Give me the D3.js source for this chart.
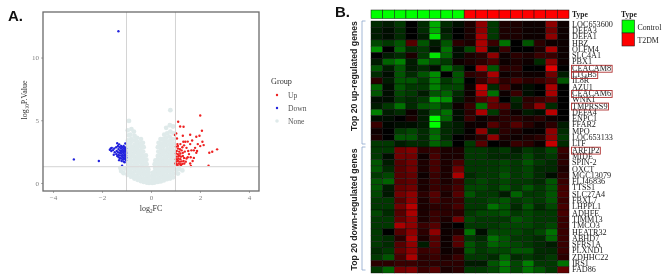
<!DOCTYPE html>
<head>
<meta charset="utf-8">
<title>Volcano plot and heatmap</title>
<style>
    body { margin: 0; background: white; }
    svg { display: block; filter: blur(0.4px); }
    text { font-family: "Liberation Serif", serif; }
    .panel-label { font: bold 15px "Liberation Sans", sans-serif; fill: #111; }
    .axis path { display: none; }
    .axis line { stroke: #777; stroke-width: 0.6px; }
    .axis text { font: 7px "Liberation Serif", serif; fill: #808080; }
    .side-label { font: bold 8.7px "Liberation Sans", sans-serif; fill: #222; text-anchor: middle; }
    .gene { font-size: 8.2px; fill: #222; dominant-baseline: middle; }
    .type-label { font-size: 7.6px; font-weight: bold; fill: #222; }
</style>
</head>
<body>
<svg width="669" height="279"></svg>
<script src="https://d3js.org/d3.v7.min.js"></script>
<script>

    // volcano plot, values: [log2FC, -log10 P]
    var xTicks = [-4, -2, 0, 2, 4];
    var yTicks = [0, 5, 10];
    var cutX = [-1, 1];
    var cutY = [1.3];
    var groupNames = ["Up", "Down", "None"];

    var upGenes = [
        [2.01,5.38],[1.11,4.88],[1.19,4.5],[1.33,4.48],[2.08,4.16],[1.03,3.95],[0.98,3.82],[1.3,3.77],
        [1.6,3.85],[1.98,3.77],[1.85,3.69],[1.06,3.55],[1.4,3.29],[1.32,3.29],[1.68,3.39],[2.1,3.29],
        [2.15,3.02],[1.91,3.1],[2.01,2.94],[2.7,2.68],[2.5,2.49],[2.38,2.41],[2.35,1.38],[1.63,1.35],
        [1.02,2.9],[1.1,2.75],[1.18,2.7],[1.05,2.55],[1.15,2.5],[1.25,2.6],[1.02,2.35],[1.1,2.3],
        [1.2,2.35],[1.3,2.4],[1.38,2.5],[1.05,2.1],[1.13,2.15],[1.22,2.1],[1.3,2.15],[1.02,1.9],
        [1.12,1.95],[1.2,1.9],[1.35,2],[1.45,1.95],[1.5,2.05],[1.03,1.7],[1.1,1.75],[1.18,1.7],
        [1.25,1.72],[1.33,1.75],[1.42,1.7],[1.05,1.5],[1.13,1.55],[1.2,1.5],[1.28,1.52],[1.36,1.55],
        [1.08,1.42],[1.22,1.42],[1.55,2.3],[1.62,2.05],[1.7,1.75],[1.6,1.55],[1.75,2],[1.85,2.4],
        [1.88,2.55],[1.75,2.6],[1.65,2.6],[1.45,2.8],[1.35,3.0],[1.2,3.1],[1.08,3.1],[1.5,3.3],
        [1.6,3.1],[1.8,2.8],[1.1,2.95],[1.28,2.85],[1.52,2.55],[1.0,1.55],[1.16,2.2],[1.07,1.85]
    ];

    var downGenes = [
        [-1.33,12.1],[-3.15,1.88],[-2.13,1.75],[-1.18,1.38],[-1.38,3.17],[-1.3,3.08],[-1.05,3.15],
        [-1.68,2.65],[-1.64,2.75],[-1.6,2.8],[-1.55,2.62],[-1.62,2.55],[-1.5,2.75],[-1.48,2.45],
        [-1.52,2.25],[-1.42,2.85],[-1.4,2.55],[-1.42,2.3],[-1.38,2.15],[-1.35,2.95],[-1.33,2.7],
        [-1.35,2.45],[-1.33,2.25],[-1.32,2.05],[-1.28,2.85],[-1.27,2.6],[-1.28,2.4],[-1.27,2.2],
        [-1.26,1.98],[-1.22,2.95],[-1.22,2.75],[-1.21,2.55],[-1.22,2.35],[-1.2,2.15],[-1.22,1.95],
        [-1.2,1.75],[-1.17,2.85],[-1.16,2.65],[-1.16,2.45],[-1.16,2.25],[-1.15,2.05],[-1.15,1.88],
        [-1.12,2.95],[-1.11,2.75],[-1.11,2.55],[-1.11,2.38],[-1.1,2.18],[-1.1,1.98],[-1.12,1.72],
        [-1.07,2.85],[-1.06,2.65],[-1.06,2.48],[-1.06,2.28],[-1.05,2.1],[-1.06,1.92],[-1.08,1.65],
        [-1.02,2.75],[-1.02,2.55],[-1.01,2.38],[-1.02,2.2],[-1.01,2.02],[-1.02,1.8],[-1.3,1.82],[-1.24,2.48]
    ];

    var noneGenes = [
        [-1.22,0.95],[-1.12,0.78],[-1.08,1.15],[-1.25,1.2],
        [-0.96,0.65],[-0.94,0.95],[-0.95,1.25],[-0.93,1.55],[-0.96,1.85],[-0.94,2.15],[-0.95,2.45],[-0.93,2.75],[-0.96,3.05],[-0.94,3.4],[-0.92,3.8],[-0.95,4.2],[-0.9,4.95],
        [-0.82,0.5],[-0.81,0.8],[-0.83,1.1],[-0.8,1.4],[-0.82,1.7],[-0.84,2],[-0.81,2.3],[-0.82,2.6],[-0.8,2.9],[-0.83,3.2],[-0.81,3.5],[-0.84,3.85],[-0.8,4.3],
        [-0.68,0.35],[-0.7,0.65],[-0.67,0.95],[-0.69,1.25],[-0.66,1.55],[-0.68,1.85],[-0.7,2.15],[-0.67,2.45],[-0.68,2.75],[-0.66,3.05],[-0.69,3.4],[-0.67,3.75],[-0.7,4.1],
        [-0.55,0.25],[-0.56,0.55],[-0.53,0.85],[-0.55,1.15],[-0.57,1.45],[-0.54,1.75],[-0.55,2.05],[-0.53,2.35],[-0.56,2.65],[-0.54,2.95],[-0.55,3.25],[-0.57,3.6],
        [-0.42,0.15],[-0.43,0.45],[-0.41,0.75],[-0.43,1.05],[-0.4,1.35],[-0.42,1.65],[-0.44,1.95],[-0.41,2.25],[-0.42,2.55],[-0.4,2.85],[-0.43,3.15],[-0.41,3.5],
        [-0.3,0.08],[-0.31,0.35],[-0.29,0.65],[-0.3,0.95],[-0.28,1.25],[-0.31,1.55],[-0.29,1.85],[-0.3,2.15],[-0.32,2.5],[-0.3,2.85],[-0.33,3.2],
        [-0.18,0.03],[-0.19,0.3],[-0.17,0.6],[-0.18,0.9],[-0.16,1.2],[-0.18,1.5],[-0.19,1.85],[-0.21,2.2],
        [-0.08,0],[-0.09,0.25],[-0.08,0.55],[-0.1,0.85],[-0.11,1.1],
        [0.05,0],[0.06,0.25],[0.05,0.55],[0.07,0.8],
        [0.15,0.03],[0.16,0.3],[0.14,0.6],[0.15,0.9],[0.17,1.2],[0.15,1.5],[0.18,1.8],
        [0.28,0.08],[0.29,0.35],[0.27,0.65],[0.28,0.95],[0.26,1.25],[0.29,1.55],[0.27,1.85],[0.28,2.15],[0.3,2.5],[0.28,2.85],[0.31,3.2],
        [0.4,0.12],[0.41,0.45],[0.39,0.75],[0.41,1.05],[0.38,1.35],[0.4,1.65],[0.42,1.95],[0.39,2.25],[0.4,2.55],[0.38,2.85],[0.41,3.15],[0.39,3.5],
        [0.52,0.2],[0.53,0.5],[0.51,0.8],[0.53,1.1],[0.5,1.4],[0.52,1.7],[0.54,2],[0.51,2.3],[0.52,2.6],[0.5,2.9],[0.53,3.2],[0.51,3.5],[0.54,3.85],
        [0.65,0.3],[0.66,0.6],[0.64,0.9],[0.65,1.2],[0.63,1.5],[0.66,1.8],[0.64,2.1],[0.65,2.4],[0.67,2.7],[0.64,3],[0.65,3.3],[0.63,3.6],[0.66,3.95],[0.62,4.4],
        [0.78,0.35],[0.79,0.65],[0.77,0.95],[0.78,1.25],[0.76,1.55],[0.79,1.85],[0.77,2.15],[0.78,2.45],[0.8,2.75],[0.77,3.05],[0.78,3.35],[0.76,3.7],[0.79,4.1],[0.77,4.6],[0.79,5.8],
        [0.9,0.45],[0.91,0.75],[0.89,1.05],[0.9,1.35],[0.92,1.65],[0.89,1.95],[0.91,2.25],[0.9,2.55],[0.88,2.85],[0.91,3.15],[0.89,3.5],[0.92,3.95],[0.9,4.5],
        [1.1,0.75],[1.04,1.05],[1.15,1.12],[1.28,1.0]
    ];

    // heatmap, values, green (-9) to red (+9)
    var geneNames = ["LOC653600","DEFA3","DEFA1","HBZ","OLFM4","SLC4A1","PBX1","CEACAM8","LTGB5","IL8R",
        "AZU1","CEACAM6","WNK1","TMPRSS9","DEFA4","ENPC1","FFAR2","MPO","LOC653133","LTF",
        "ARFIP2","MIDE","SPIN-2","OXCT","MGC13079","FLJ46836","TTSS1","SLC27A4","FBXL7","LHPPL1",
        "ADHFE","TIMM13","TMCO3","HEATR32","ABHD7","SFRS1A","PLXND1","ZDHHC22","IRS1","FAD86"];
    var boxedGenes = ["CEACAM8","LTGB5","CEACAM6","TMPRSS9","ARFIP2"];
    var sampleTypes = ["Control","Control","Control","Control","Control","Control","Control","Control",
        "T2DM","T2DM","T2DM","T2DM","T2DM","T2DM","T2DM","T2DM","T2DM"];
    var typeNames = ["Control", "T2DM"];
    var typeColors = ["#00ff00", "#ff0000"];

    var heatRows = [
        [-1.5,-1,-2,0,-1.5,-6,-1.5,-0.5,1,5,-2,1,1,0.5,0.5,5,0.5],
        [-1,-0.5,-1.5,0,-1.5,-6,-1,0,1,5,-2,1,1,0.5,0.5,4,0.5],
        [-1,-0.5,-1.5,0,-1,-8,-1.5,0,1,6,-2,1,1,0.5,0.5,5,0.5],
        [-2.5,-2,-3,3,-3,-1,-3,1.5,1,6,2,-4,0,-3,1.5,0.5,0.5],
        [-5,0,-3.5,-1.5,-2,-0.5,-4,-0.5,-2.5,6,-0.5,2,0,0,1,6,0.5],
        [0,-1,-1.5,1,-2,-8,-3.5,-0.5,1,1.5,5,0.5,1.5,1,2,2,0.5],
        [-1,-3.5,-4.5,-1,-4,-3,-2,0.5,1,1.5,2.5,0.5,1,0.5,-1.5,5,0.5],
        [-3,-1,-3,-1,-1.5,-0.5,-4,-2,0,6,-3,1.5,1.5,0,0,8,0],
        [-1.5,-0.5,-3,-1.5,-3,-5,0,-3,1.5,2,6,0.5,1,0.5,0.5,4,-1],
        [1.5,-1,-3,-3,-2,-4.5,-2,-3,0,2,4,1.5,2.5,1.5,2,3,-3],
        [-3.5,-0.5,-3,-2,-2,-4.5,-2.5,-2.5,0.5,7,-1.5,2.5,0.5,-0.5,0,6,0],
        [-3,-0.5,-2.5,-2,-1,-3,-3.5,-1.5,0.5,6,-4,0.5,2,-0.5,0,6,0],
        [-0.5,-0.5,-2,-1.5,-2,-6,-5,-1,1,3,4,0,-1.5,1.5,2,3,0],
        [-1,-2,-4,-1.5,-3,-3.5,-2,0.5,2,-4,3.5,3,-1,2,5,-1.5,0],
        [-4.5,-1,-1.5,0.5,-1,-3,-4,-0.5,1.5,6,-2,1.5,0.5,-1,-0.5,6.5,0],
        [-0.5,-0.5,0,1,-1,-9,-3.5,-0.5,2,0.5,1,1.5,1.5,1,1.5,0.5,0],
        [2,-0.2,-0.5,-0.5,-1,-9,-1.5,-1,0.5,0.5,3,1.5,3,1.5,0.5,1.5,-1],
        [0.5,0,-2,-2.5,-1.5,-3.5,-1.5,-1,0.2,5,-1,1.5,1,0.2,0.2,5,-1.5],
        [1,0,-3,-3,-1.5,-4,-1.5,0,0.5,1.5,5,1,0.5,1,1.5,5,-2],
        [-2,-2,-1,-1.5,-1.5,-3.5,-2.5,0,-2,3,0,0.5,2,1.5,0.5,7,-1.5],
        [-2,-2,4,4.5,1.5,2,1,1,-2,-2,-1.5,-2,-1,-2,-1.5,-2.5,2],
        [-2,-0.5,4,4,0.5,2.5,1,1,-2,-2,-1.5,-1.5,-1.5,-2.5,-1.5,-2,1.5],
        [-3,-1,3,4,1,2.5,1,2.5,-2,-2,-2,-2.5,-2,-3,-2,-1.5,1.5],
        [-3,-1.5,3,4,1,2.5,1,4,-2,-2,-2,-2.5,-2,-2.5,-1.5,-1.5,1],
        [-2,-2.5,3,3.5,0.5,2,1,6,-1.5,-2,-2,-3,-2,-2.5,-1.5,-0.5,1.5],
        [-3,-3.5,3,3.5,1,2,1,2,-2,-2.5,-2,-2.5,-2,-2,-1.5,-3,2],
        [-3,-1,3.5,4,1,2,1.5,2.5,-2.5,-2.5,-2,-3,-2,-3,-2,-3,2.5],
        [-2.5,-0.8,4,5,1.5,3,1,3,-3,-2,-2,-1,-3.5,-2,-2,-3,2.5],
        [-2,-2,3,5,1,2.5,1.5,2,-2,-2,-2.5,-3,-2,-2.5,-2,-3,2],
        [-2,-2,4,6.5,1,1.5,1.5,2.5,-2,-2,-4,-3,-1.5,-3,-1.5,-2.5,2.5],
        [-2.5,-1.5,3,6,1,2,1.5,1.5,-2,-2.5,-2.5,-3,-2,-2.5,-2,-2,2.5],
        [-2,-2,3.5,5,1,2,1,4,-2.5,-2,-2,-2,-3,-2.5,-2,-2,2],
        [-2,-2,6,5,2,3,0.5,0,-2,-2,-2,-2.5,-2.5,-2.5,-2,-2.5,2],
        [-2,0,3,5,1.5,5,0.5,1,-4,-0.5,-2.5,-2.5,-2.5,-2,-2.5,-4,2],
        [-2,-1.5,1.5,6,1,3,0.5,3,-2,-1.5,-4,-3,-2,-2,-1.5,-3.5,2],
        [-2,-1.5,3,5,-1,3,0.5,3,-3,-2,-3.5,-3,-2.5,-2,-1.5,-1,2],
        [-1.5,-2,3.5,5,2,2.5,0.5,1,-3,-2,-2.5,-2.5,-3,-3,-1.5,-1.5,2],
        [-2,-3,2.5,6,1.5,2,1,2,-2,-2,-1.5,-3.5,-1.5,-2,-1.5,-2,1.5],
        [1.5,1.5,2,2,1.5,1.5,1.5,1.5,-1,-1,-3,-4.5,-2.5,-4.5,-2,-2,-4],
        [-2,-3.5,4,4.5,2,3,1,1.5,-2,-2,-2.5,-4,-2.5,-4,-3,-2,3.5]
    ];

    var svg = d3.select("svg");

    svg.append("text").attr("class", "panel-label").attr("x", 8).attr("y", 21).text("A.");
    svg.append("text").attr("class", "panel-label").attr("x", 335).attr("y", 17).text("B.");

    // ---- A. volcano ----
    var margin = {top: 12, right: 410, bottom: 88, left: 43},
        width = +svg.attr("width") - margin.left - margin.right,
        height = +svg.attr("height") - margin.top - margin.bottom;

    var g = svg.append("g")
        .attr("transform", "translate(" + margin.left + "," + margin.top + ")");

    var x = d3.scaleLinear().domain([-4.41, 4.41]).range([0, width]);
    var y = d3.scaleLinear().domain([-0.64, 13.63]).range([height, 0]);

    var groupColor = d3.scaleOrdinal().domain(groupNames).range(["#ee2222", "#2222dd", "#dfeaea"]);

    g.append("g").attr("class", "axis")
        .attr("transform", "translate(0," + height + ")")
        .call(d3.axisBottom(x).tickValues(xTicks).tickSize(2).tickPadding(2));

    g.append("g").attr("class", "axis")
        .call(d3.axisLeft(y).tickValues(yTicks).tickSize(2).tickPadding(2));

    function dots(data, name, r) {
        g.append("g").selectAll("circle")
            .data(data)
            .enter().append("circle")
            .attr("cx", function (d) { return x(d[0]); })
            .attr("cy", function (d) { return y(d[1]); })
            .attr("r", r)
            .attr("fill", groupColor(name));
    }
    dots(noneGenes, "None", 2.4);
    dots(upGenes, "Up", 1.2);
    dots(downGenes, "Down", 1.2);

    g.selectAll(".cut-x").data(cutX).enter().append("line")
        .attr("x1", x).attr("x2", x).attr("y1", 0).attr("y2", height)
        .attr("stroke", "#cfcfcf").attr("stroke-width", 0.9);
    g.selectAll(".cut-y").data(cutY).enter().append("line")
        .attr("x1", 0).attr("x2", width).attr("y1", y).attr("y2", y)
        .attr("stroke", "#dcdcdc").attr("stroke-width", 1.3);

    g.append("rect").attr("width", width).attr("height", height)
        .attr("fill", "none").attr("stroke", "#6a6a6a").attr("stroke-width", 1.3);

    var xTitle = svg.append("text").attr("x", 151).attr("y", 211)
        .attr("text-anchor", "middle").attr("font-size", 8).attr("fill", "#333");
    xTitle.append("tspan").text("log");
    xTitle.append("tspan").attr("font-size", 5.2).attr("dy", 1.5).text("2");
    xTitle.append("tspan").attr("dy", -1.5).text("FC");

    var yTitle = svg.append("text")
        .attr("transform", "translate(27,100) rotate(-90)")
        .attr("text-anchor", "middle").attr("font-size", 8).attr("fill", "#333");
    yTitle.append("tspan").text("log");
    yTitle.append("tspan").attr("font-size", 5.2).attr("dy", 1.5).text("10");
    yTitle.append("tspan").attr("dy", -1.5).text("P.Value");

    svg.append("text").attr("x", 271).attr("y", 84)
        .attr("font-size", 8.2).attr("fill", "#333").text("Group");

    var groupY = d3.scalePoint().domain(groupNames).range([95, 121]);
    var groupKey = svg.selectAll(".group-key").data(groupNames).enter().append("g")
        .attr("transform", function (d) { return "translate(277," + groupY(d) + ")"; });
    groupKey.append("circle").attr("r", function (d) { return d == "None" ? 1.8 : 1.2; })
        .attr("fill", groupColor);
    groupKey.append("text").attr("x", 11).attr("y", 2.5)
        .attr("font-size", 7.6).attr("fill", "#555").text(function (d) { return d; });

    // ---- B. heatmap ----
    var cols = d3.scaleBand().domain(d3.range(sampleTypes.length)).range([371, 569]);
    var rows = d3.scaleBand().domain(geneNames).range([21, 273]);
    var heatColor = d3.scaleLinear().domain([-9, 0, 9]).range(["#00ff00", "#000000", "#ff0000"]);

    svg.append("g").selectAll("rect")
        .data(sampleTypes)
        .enter().append("rect")
        .attr("x", function (d, i) { return cols(i); })
        .attr("y", 10)
        .attr("width", cols.bandwidth())
        .attr("height", 8.5)
        .attr("fill", function (d) { return typeColors[typeNames.indexOf(d)]; })
        .attr("stroke", "#111")
        .attr("stroke-width", 0.5);

    svg.append("text").attr("class", "type-label").attr("x", 572).attr("y", 17).text("Type");

    var row = svg.append("g").selectAll("g")
        .data(heatRows)
        .enter().append("g")
        .attr("transform", function (d, i) { return "translate(0," + rows(geneNames[i]) + ")"; });

    row.selectAll("rect")
        .data(function (d) { return d; })
        .enter().append("rect")
        .attr("x", function (d, i) { return cols(i); })
        .attr("width", cols.bandwidth())
        .attr("height", rows.bandwidth())
        .attr("fill", function (d) { return heatColor(d); })
        .attr("stroke", "#0a0a0a")
        .attr("stroke-width", 0.4);

    var labels = svg.append("g").selectAll("text")
        .data(geneNames)
        .enter().append("text")
        .attr("class", "gene")
        .attr("x", 572)
        .attr("y", function (d) { return rows(d) + rows.bandwidth() / 2 + 0.6; })
        .text(function (d) { return d; });

    labels.filter(function (d) { return boxedGenes.indexOf(d) >= 0; }).each(function (d) {
        var w = this.getComputedTextLength();
        svg.append("rect")
            .attr("x", 571.5)
            .attr("y", rows(d) + 0.2)
            .attr("width", w + 1.5)
            .attr("height", rows.bandwidth() + 0.6)
            .attr("fill", "none")
            .attr("stroke", "#b03030")
            .attr("stroke-width", 0.9);
    });

    // brackets and side labels
    var sideGroups = [geneNames.slice(0, 20), geneNames.slice(20)];
    var sideTitles = ["Top 20 up-regulated genes", "Top 20 down-regulated genes"];
    var sideCenters = [76, 209.5];
    sideGroups.forEach(function (names, i) {
        var top = rows(names[0]), bottom = rows(names[names.length - 1]) + rows.bandwidth() - 3;
        svg.append("path")
            .attr("d", d3.line()([[365.5, top], [362, top], [362, bottom], [365.5, bottom]]))
            .attr("fill", "none").attr("stroke", "#8aa5cc").attr("stroke-width", 0.8);
        svg.append("text").attr("class", "side-label")
            .attr("transform", "translate(357," + sideCenters[i] + ") rotate(-90)")
            .text(sideTitles[i]);
    });

    // type legend
    svg.append("text").attr("class", "type-label").attr("x", 621).attr("y", 17).text("Type");
    var typeY = d3.scaleBand().domain(typeNames).range([20, 46]);
    var typeKey = svg.selectAll(".type-key").data(typeNames).enter().append("g")
        .attr("transform", function (d) { return "translate(622," + typeY(d) + ")"; });
    typeKey.append("rect").attr("width", 12.5).attr("height", typeY.bandwidth())
        .attr("fill", function (d, i) { return typeColors[i]; })
        .attr("stroke", "#222").attr("stroke-width", 0.6);
    typeKey.append("text").attr("x", 15.5).attr("y", 9.5)
        .attr("font-size", 7.8).attr("fill", "#222").text(function (d) { return d; });
</script>
</body>
